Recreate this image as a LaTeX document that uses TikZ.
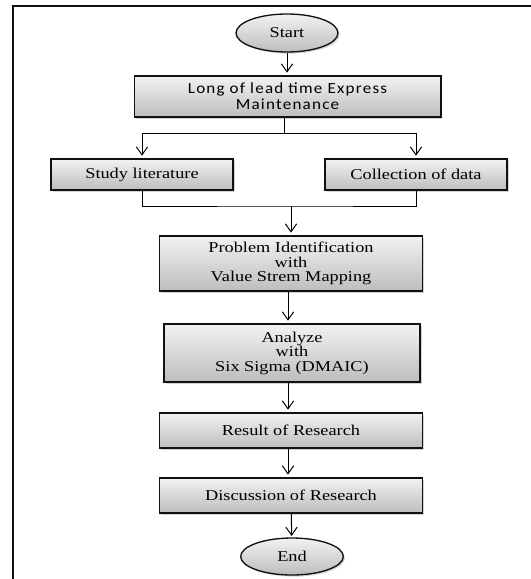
\documentclass[tikz,border=0pt]{standalone}
\usepackage{fontspec}
\setmainfont{Liberation Serif}[FakeStretch=1.22]
\newfontfamily\leadfont{Carlito}[LetterSpace=8,FakeStretch=1.1]
\usetikzlibrary{arrows.meta,shapes.geometric,shadows}
\definecolor{boxtop}{HTML}{F2F2F2}
\definecolor{boxbot}{HTML}{BDBDBD}
\definecolor{ink}{HTML}{111111}

\begin{document}
\begin{tikzpicture}[x=0.75pt, y=-0.75pt, >={Straight Barb[length=6pt,width=8.5pt]},
    font=\fontsize{11.25}{10.9}\selectfont, line width=0.75pt,
    box/.style={draw=ink, line width=1pt, top color=boxtop, bottom color=boxbot,
      drop shadow={shadow xshift=1.2pt, shadow yshift=-1.2pt, opacity=0.35},
      align=center, inner sep=1pt},
    term/.style={box, ellipse}]
  \useasboundingbox (0,0) rectangle (531,579);
  % page frame
  \draw[ink, line width=2.2pt] (13,579) -- (13,6) -- (531,6);

  % flow nodes
  \node[term, minimum width=76.5pt, minimum height=28.5pt] (start) at (287,33) {Start};
  \node[box, minimum width=230pt, minimum height=30.75pt,
        font=\leadfont\fontsize{11.6}{12}\selectfont] (lead) at (287.5,96.5)
        {Long of lead time Express\\Maintenance};
  \node[box, minimum width=136.5pt, minimum height=23.25pt] (study) at (142,174.5) {Study literature};
  \node[box, minimum width=136.5pt, minimum height=23.25pt] (coll) at (416,174.5) {Collection of data};
  \node[box, minimum width=197pt, minimum height=41.25pt] (prob) at (291,263.5)
        {Problem Identification\\with\\Value Strem Mapping};
  \node[box, minimum width=192pt, minimum height=43.5pt] (anal) at (292,353)
        {Analyze\\with\\Six Sigma (DMAIC)};
  \node[box, minimum width=197pt, minimum height=26.25pt] (res) at (291,430.5) {Result of Research};
  \node[box, minimum width=197pt, minimum height=26.25pt] (disc) at (291,495.5) {Discussion of Research};
  \node[term, minimum width=77pt, minimum height=27.75pt] (end) at (292,556.5) {End};

  % split and join
  \coordinate (sp) at (284,133);
  \coordinate (jn) at (291,206);

  % connectors
  \draw[->, shorten >=2pt] (start) -- (start |- lead.north);
  \draw (lead.south -| sp) -- (sp);
  \draw[->, shorten >=2pt] (sp) -| (study.north);
  \draw[->, shorten >=2pt] (sp) -| (coll.north);
  \draw (study.south) |- (jn) -| (coll.south);
  \draw[->, shorten >=2pt] (jn) -- (jn |- prob.north);
  \draw[->, shorten >=2pt] (prob.south -| 288,0) -- (anal.north -| 288,0);
  \draw[->, shorten >=2pt] (anal.south -| 288,0) -- (res.north -| 288,0);
  \draw[->, shorten >=2pt] (res.south -| 288,0) -- (disc.north -| 288,0);
  \draw[->, shorten >=1pt] (disc) -- (end);
\end{tikzpicture}
\end{document}
